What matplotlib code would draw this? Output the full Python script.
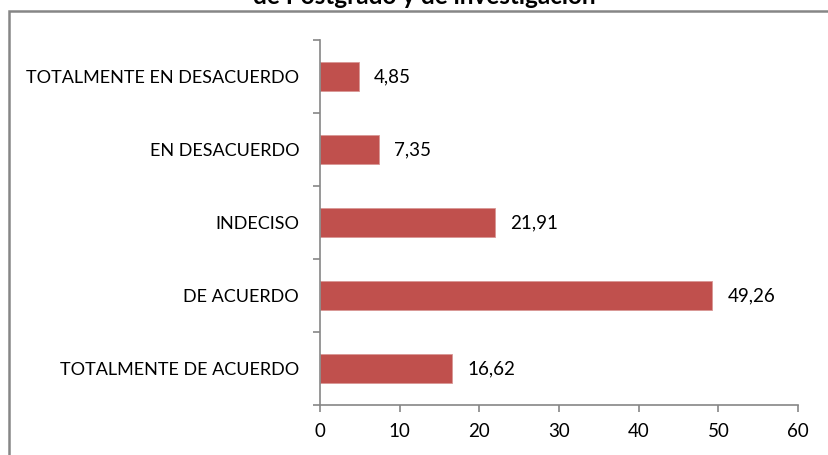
import matplotlib.pyplot as plt
from matplotlib.patches import Rectangle

# data
categories = ["TOTALMENTE DE ACUERDO", "DE ACUERDO", "INDECISO",
              "EN DESACUERDO", "TOTALMENTE EN DESACUERDO"]
values = [16.62, 49.26, 21.91, 7.35, 4.85]
labels = ["16,62", "49,26", "21,91", "7,35", "4,85"]
xticks = [0, 10, 20, 30, 40, 50, 60]

plt.rcParams['font.family'] = ['Lato', 'DejaVu Sans']
W, H = 829, 455
fig = plt.figure(figsize=(W / 100, H / 100), dpi=100)

# outer chart frame (runs off the right and bottom of the picture)
fig.patches.append(Rectangle((9.5 / W, -0.1), 1.2, 1.1 - 11.5 / H,
                             transform=fig.transFigure, fill=False,
                             edgecolor='#868686', linewidth=1.8))

ax = fig.add_axes([320 / W, (H - 405) / H, (798 - 320) / W, (405 - 40) / H])
pos = list(range(len(categories)))
ax.barh(pos, values, height=0.4, color='#C0504D', edgecolor='#D99795', linewidth=0.6)

for p, v, t in zip(pos, values, labels):
    ax.text(v + 1.9, p, t, va='center', ha='left', fontsize=13.5)

ax.set_xlim(0, 60)
ax.set_ylim(-0.5, 4.5)
ax.set_xticks(xticks)
ax.set_xticklabels([str(x) for x in xticks], fontsize=13.5)
ax.set_yticks(pos)
ax.set_yticklabels(categories, fontsize=13)
ax.set_yticks([-0.5, 0.5, 1.5, 2.5, 3.5, 4.5], minor=True)
ax.tick_params(axis='y', which='major', length=0, pad=15)
ax.tick_params(axis='y', which='minor', length=5, color='#868686', width=1.2, direction='out')
ax.tick_params(axis='x', length=5, color='#868686', width=1.2, pad=8)

for s in ['top', 'right']:
    ax.spines[s].set_visible(False)
for s in ['left', 'bottom']:
    ax.spines[s].set_color('#868686')
    ax.spines[s].set_linewidth(1.2)

# title, mostly cut off at the top of the picture
fig.text(424 / W, 1 - 4 / H, "de Postgrado y de investigación", ha='center',
         va='baseline', fontsize=17.5, fontweight='bold')

fig.savefig("out.png", dpi=100)
